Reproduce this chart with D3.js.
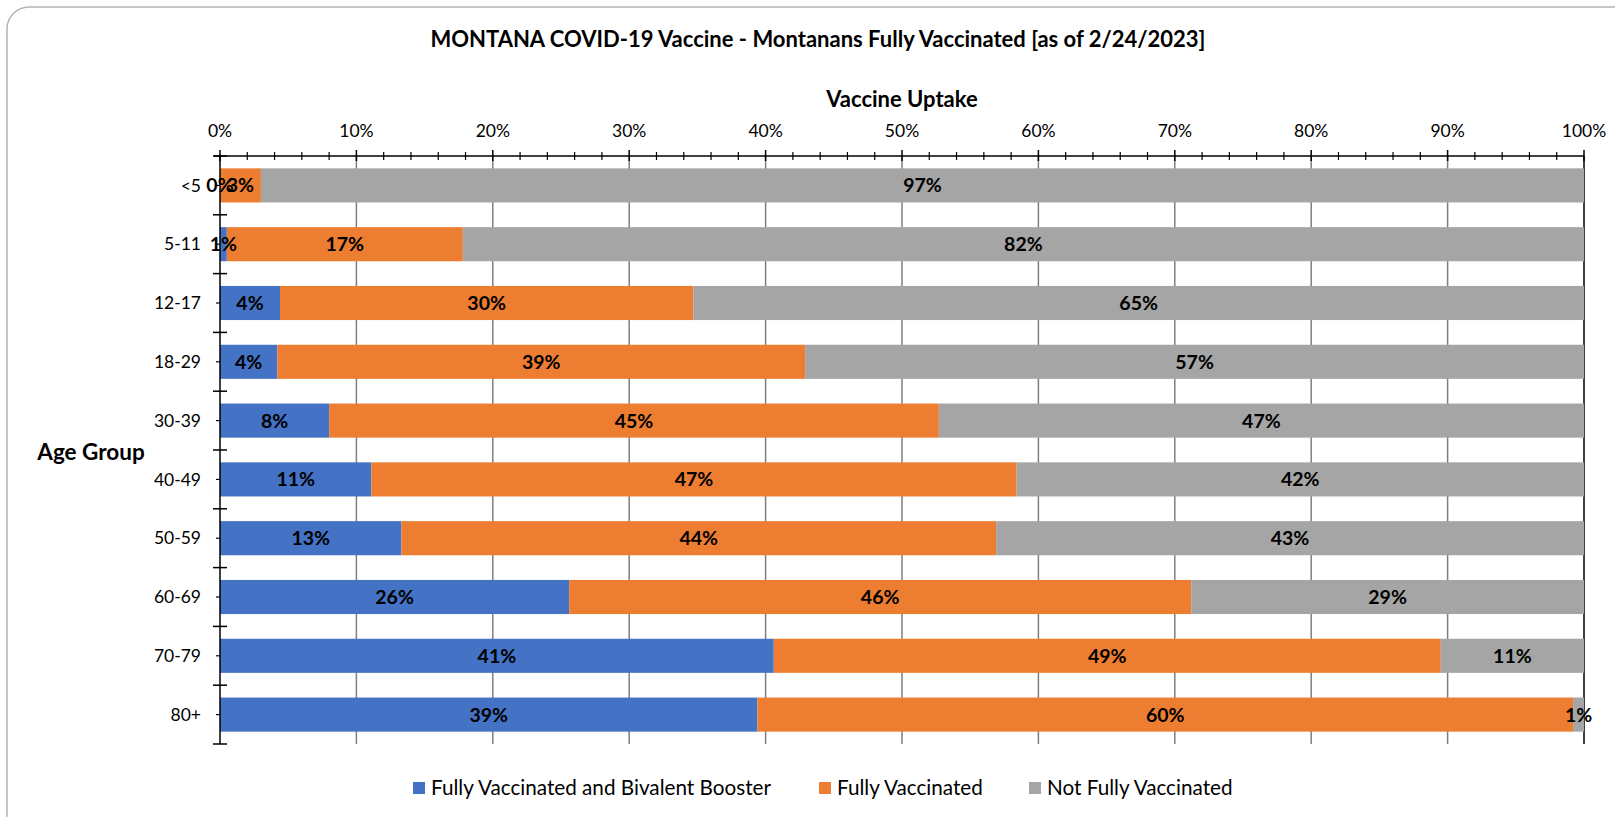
<!DOCTYPE html>
<html>
<head>
<meta charset="utf-8">
<script src="https://cdn.jsdelivr.net/npm/d3@7"></script>
<style>
  body { margin: 0; background: #fff; }
  svg { display: block; font-family: Lato, "Noto Sans", sans-serif; }
</style>
</head>
<body>
<div id="chart"></div>
<script>
// Chart data (percent of each age group)
const ageGroups = ["<5", "5-11", "12-17", "18-29", "30-39", "40-49", "50-59", "60-69", "70-79", "80+"];
const boosterPct = [0.0, 0.5, 4.4, 4.2, 8.0, 11.1, 13.3, 25.6, 40.6, 39.4];
const fullyPct = [3.0, 17.3, 30.3, 38.7, 44.7, 47.3, 43.6, 45.6, 48.9, 59.8];
const notFullyPct = [97.0, 82.2, 65.3, 57.1, 47.3, 41.6, 43.1, 28.8, 10.5, 0.8];
const seriesNames = ["Fully Vaccinated and Bivalent Booster", "Fully Vaccinated", "Not Fully Vaccinated"];
const seriesKeys = ["booster", "fully", "notFully"];
const xTicks = [0, 10, 20, 30, 40, 50, 60, 70, 80, 90, 100];

const W = 1615, H = 817;
const plot = { left: 220, right: 1584, top: 156, bottom: 744 };
const colors = { booster: "#4472C4", fully: "#ED7D31", notFully: "#A5A5A5" };

const svg = d3.select("#chart")
    .append("svg")
    .attr("width", W)
    .attr("height", H);

// Chart frame (runs off the right / bottom edge like the original)
svg.append("rect")
    .attr("x", 7).attr("y", 7)
    .attr("width", 1700).attr("height", 900)
    .attr("rx", 22)
    .attr("fill", "none")
    .attr("stroke", "#b4b4b4")
    .attr("stroke-width", 1.5);

// Build rows for stacking
const rows = ageGroups.map((g, i) => ({
    group: g,
    booster: boosterPct[i],
    fully: fullyPct[i],
    notFully: notFullyPct[i]
}));

const stacked = d3.stack().keys(seriesKeys)(rows);

// Scales
const x = d3.scaleLinear()
    .domain([0, 100])
    .range([plot.left, plot.right]);

const y = d3.scaleBand()
    .domain(ageGroups)
    .range([plot.top, plot.bottom])
    .paddingInner(0.42)
    .paddingOuter(0.21);

// Vertical gridlines at major ticks
svg.append("g")
    .selectAll("line")
    .data(xTicks.slice(1, -1))
    .join("line")
    .attr("x1", d => x(d)).attr("x2", d => x(d))
    .attr("y1", plot.top).attr("y2", plot.bottom)
    .attr("stroke", "#7f7f7f")
    .attr("stroke-width", 1.5);

// Right edge line at 100%
svg.append("line")
    .attr("x1", x(100)).attr("x2", x(100))
    .attr("y1", plot.top).attr("y2", plot.bottom)
    .attr("stroke", "#000")
    .attr("stroke-width", 1.5);

// Bars
svg.append("g")
    .selectAll("g")
    .data(stacked)
    .join("g")
    .attr("fill", d => colors[d.key])
    .selectAll("rect")
    .data(d => d)
    .join("rect")
    .attr("x", d => x(d[0]))
    .attr("y", d => y(d.data.group))
    .attr("width", d => x(d[1]) - x(d[0]))
    .attr("height", y.bandwidth());

// Top axis
const xAxis = svg.append("g");
xAxis.append("line")
    .attr("x1", x(0) - 6).attr("x2", x(100))
    .attr("y1", plot.top).attr("y2", plot.top)
    .attr("stroke", "#000").attr("stroke-width", 1.5);

const minorTicks = d3.range(0, 101, 2).filter(v => v % 10 !== 0);
xAxis.selectAll(".minor")
    .data(minorTicks)
    .join("line")
    .attr("class", "minor")
    .attr("x1", d => x(d)).attr("x2", d => x(d))
    .attr("y1", plot.top - 4).attr("y2", plot.top + 4)
    .attr("stroke", "#000").attr("stroke-width", 1.2);

xAxis.selectAll(".major")
    .data(xTicks)
    .join("line")
    .attr("class", "major")
    .attr("x1", d => x(d)).attr("x2", d => x(d))
    .attr("y1", plot.top - 6).attr("y2", plot.top + 5)
    .attr("stroke", "#000").attr("stroke-width", 1.5);

xAxis.selectAll("text")
    .data(xTicks)
    .join("text")
    .attr("x", d => x(d))
    .attr("y", 137)
    .attr("text-anchor", "middle")
    .attr("font-size", 17.5)
    .attr("fill", "#000")
    .text(d => d + "%");

// Left axis
const yAxis = svg.append("g");
yAxis.append("line")
    .attr("x1", plot.left).attr("x2", plot.left)
    .attr("y1", plot.top).attr("y2", plot.bottom)
    .attr("stroke", "#000").attr("stroke-width", 1.5);

const bandEdges = ageGroups.map(g => y(g) - y.step() * y.paddingInner() / 2)
    .concat([plot.bottom]);
yAxis.selectAll(".major")
    .data(bandEdges)
    .join("line")
    .attr("class", "major")
    .attr("x1", plot.left - 7).attr("x2", plot.left + 7)
    .attr("y1", d => d).attr("y2", d => d)
    .attr("stroke", "#000").attr("stroke-width", 1.5);

yAxis.selectAll(".minor")
    .data(ageGroups)
    .join("line")
    .attr("class", "minor")
    .attr("x1", plot.left - 4).attr("x2", plot.left)
    .attr("y1", d => y(d) + y.bandwidth() / 2)
    .attr("y2", d => y(d) + y.bandwidth() / 2)
    .attr("stroke", "#000").attr("stroke-width", 1.2);

yAxis.selectAll("text")
    .data(ageGroups)
    .join("text")
    .attr("x", 201)
    .attr("y", d => y(d) + y.bandwidth() / 2)
    .attr("dy", "0.35em")
    .attr("text-anchor", "end")
    .attr("font-size", 17.5)
    .attr("fill", "#000")
    .text(d => d);

// Data labels (the <5 labels overlap in the original too)
svg.append("g")
    .selectAll("g")
    .data(stacked)
    .join("g")
    .selectAll("text")
    .data(d => d)
    .join("text")
    .attr("x", d => x((d[0] + d[1]) / 2))
    .attr("y", d => y(d.data.group) + y.bandwidth() / 2)
    .attr("dy", "0.36em")
    .attr("text-anchor", "middle")
    .attr("font-size", 19.5)
    .attr("font-weight", "bold")
    .attr("fill", "#000")
    .text(d => Math.round(d[1] - d[0]) + "%");

// Titles
svg.append("text")
    .attr("x", 818).attr("y", 47)
    .attr("text-anchor", "middle")
    .attr("font-size", 22)
    .attr("font-weight", "bold")
    .text("MONTANA COVID-19 Vaccine - Montanans Fully Vaccinated [as of 2/24/2023]");

svg.append("text")
    .attr("x", (plot.left + plot.right) / 2).attr("y", 107)
    .attr("text-anchor", "middle")
    .attr("font-size", 22)
    .attr("font-weight", "bold")
    .text("Vaccine Uptake");

svg.append("text")
    .attr("x", 91).attr("y", 460)
    .attr("text-anchor", "middle")
    .attr("font-size", 22.5)
    .attr("font-weight", "bold")
    .text("Age Group");

// Legend
const legendX = [413, 819, 1029];
const legend = svg.append("g")
    .selectAll("g")
    .data(seriesKeys)
    .join("g")
    .attr("transform", (d, i) => `translate(${legendX[i]},782)`);

legend.append("rect")
    .attr("width", 12).attr("height", 12)
    .attr("fill", d => colors[d]);

legend.append("text")
    .attr("x", 18).attr("y", 6)
    .attr("dy", "0.36em")
    .attr("font-size", 20.7)
    .attr("fill", "#000")
    .text((d, i) => seriesNames[i]);
</script>
</body>
</html>
